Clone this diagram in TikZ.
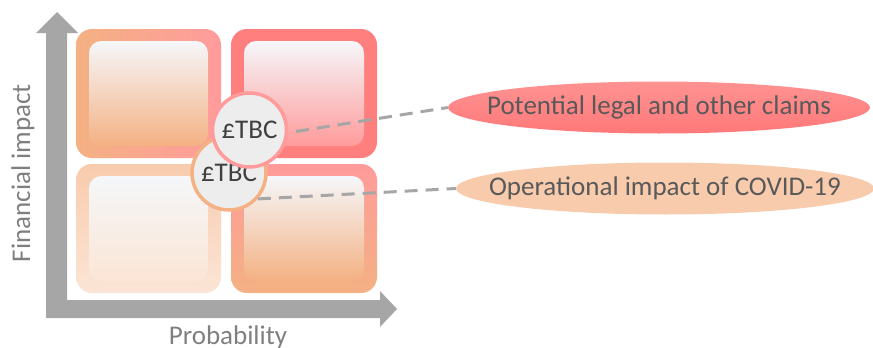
\documentclass[tikz,border=0pt]{standalone}
\usepackage{fontspec}
\setmainfont{Carlito}
\usepackage{xcolor}
\usepackage{tikz}
\usetikzlibrary{shapes.geometric}
\definecolor{axisgray}{HTML}{A6A6A6}
\definecolor{labelgray}{HTML}{7F7F7F}
\definecolor{txtgray}{HTML}{595959}
\definecolor{tbcgray}{HTML}{404040}
\definecolor{riskorange}{HTML}{F4B183}
\definecolor{riskpeach}{HTML}{F8CBAD}
\definecolor{risklight}{HTML}{FBE5D6}
\definecolor{riskred}{HTML}{FF7F7F}
\definecolor{riskpink}{HTML}{FF9B9B}
\definecolor{panewhite}{HTML}{F5F7FA}
\definecolor{badgefill}{HTML}{EDEDED}
\newcommand{\riskfont}{\fontsize{27}{32}\selectfont}
\tikzset{link/.style = {draw=axisgray, line width=3pt, dash pattern=on 13pt off 8pt}}

\begin{document}
\begin{tikzpicture}[x=1pt,y=-1pt,
  tile/.style={rounded corners=16pt},
  pane/.style={rounded corners=12pt},
  badge/.style={circle,draw,line width=3.5pt,fill=badgefill,minimum size=74pt,inner sep=0pt,text=tbcgray,font=\riskfont},
  tag/.style={ellipse,minimum height=52pt,inner xsep=-150pt,inner ysep=6.5pt,text=txtgray,font=\riskfont}]
\useasboundingbox (0,0) rectangle (873,348);

% axes
\fill[axisgray] (46,318) -- (46,33) -- (36,33) -- (57,12) -- (78,33) -- (67,33) -- (67,300)
  -- (380,300) -- (380,291) -- (397,309) -- (380,327) -- (380,318) -- cycle;
\node[rotate=90,anchor=base,text=labelgray,font=\riskfont] (fin) at (30,173) {Financial impact};
\node[anchor=base,text=labelgray,font=\riskfont] (prob) at (228,344) {Probability};

% the four tiles
\shade[tile,left color=riskorange,middle color=riskorange,right color=riskpink] (76,29) rectangle (221,158);
\shade[pane,top color=panewhite,middle color=riskorange!35!panewhite,bottom color=riskorange] (89,41) rectangle (208,146);
\fill[tile,riskred] (231,29) rectangle (377,158);
\shade[pane,top color=panewhite,middle color=riskpink!45!panewhite,bottom color=riskpink] (244,41) rectangle (364,146);
\shade[tile,top color=riskpeach,bottom color=risklight] (76,164) rectangle (221,293);
\shade[pane,top color=panewhite,bottom color=risklight] (89,176) rectangle (208,281);
\shade[tile,top color=riskpink,middle color=riskorange,bottom color=riskorange] (231,164) rectangle (377,293);
\shade[pane,top color=panewhite,middle color=riskorange!45!panewhite,bottom color=riskorange] (244,176) rectangle (364,281);

% amounts
\node[badge,draw=riskorange] (tbc2) at (229,173) {£TBC};
\node[badge,draw=riskpink] (tbc1) at (249.5,130) {£TBC};

% risks
\node[tag,minimum width=422pt,top color=riskred!85!white,bottom color=riskred!95!red] (claims) at (659,107.5) {Potential legal and other claims};
\node[tag,minimum width=418pt,fill=riskpeach] (covid) at (665,188.5) {Operational impact of COVID-19};

\path[link,shorten <=8pt] (tbc1.-4) -- (claims.west);
\path[link] (tbc2.-42) -- (covid.west);
\end{tikzpicture}
\end{document}
